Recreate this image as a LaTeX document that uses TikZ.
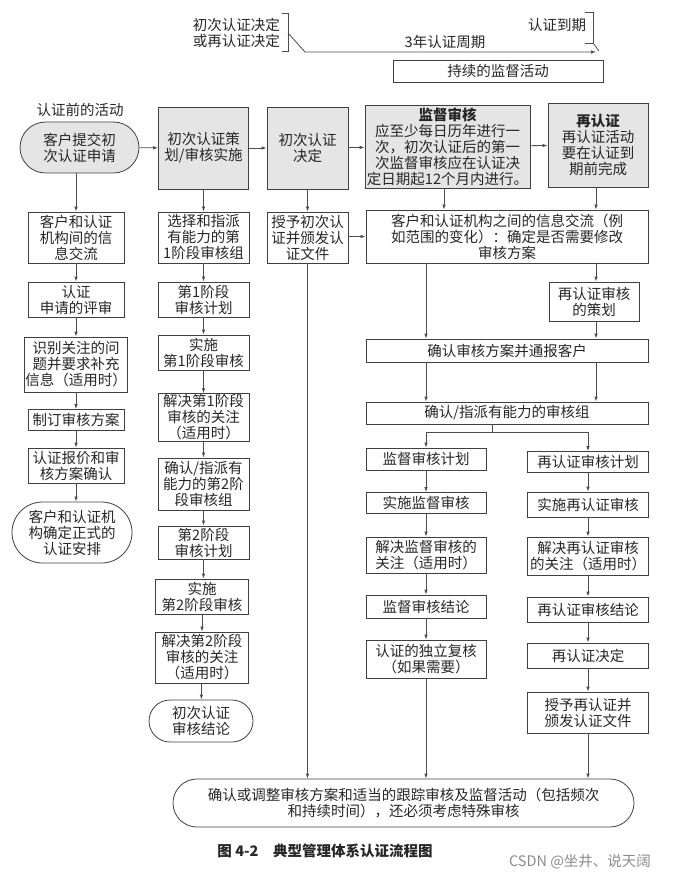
\documentclass[tikz,border=0pt]{standalone}
\usepackage{fontspec}
\setmainfont{Noto Sans CJK SC}
\usetikzlibrary{arrows.meta, shapes.misc}

\newcommand{\boxfont}{\fontsize{14.5}{16}\selectfont}

\begin{document}
\begin{tikzpicture}[x=1pt, y=-1pt,
  box/.style={draw=black!75, line width=0.8pt, align=center, inner sep=1pt, font=\boxfont, text=black!85},
  keybox/.style={box, fill=black!10},
  endbox/.style={box, rounded rectangle, rounded rectangle arc length=180},
  label/.style={align=center, inner sep=1pt, font=\boxfont, text=black!85},
  flow/.style={draw=black!70, line width=0.8pt, -{Latex[length=5pt, width=3.5pt]}},
  plain/.style={draw=black!70, line width=0.8pt}
]
  \useasboundingbox (0,0) rectangle (689,877);

  % -- Certification cycle --
  \node[label, align=right, anchor=east] (decide) at (281,33) {初次认证决定\\或再认证决定};
  \node[label] (cycle) at (445,42) {3年认证周期};
  \node[label] (expiry) at (557,25) {认证到期};
  \coordinate (cycStart) at (288,33);
  \coordinate (cycBend) at (305,52);
  \coordinate (cycEnd) at (596,52);
  \draw[plain] (282,13) -- (288,13) -- (288,51) -- (282,51);
  \draw[plain] (585,12) -- (593,12) -- (593,43) -- (585,43);
  \draw[plain] (593,43) -- (599,51);
  \draw[flow] (cycStart) -- (cycBend) -- (cycEnd);
  \node[box, minimum width=210, minimum height=22] (ongoing) at (498,71) {持续的监督活动};

  % -- Main stages --
  \node[label] (pre) at (80,110) {认证前的活动};
  \node[endbox, fill=black!10, minimum width=121, minimum height=51] (apply) at (79.5,147.5) {客户提交初\\次认证申请};
  \node[keybox, minimum width=90, minimum height=82] (plan) at (203.5,148) {初次认证策\\划/审核实施};
  \node[keybox, minimum width=81, minimum height=82] (decision) at (307.5,148) {初次认证\\决定};
  \node[keybox, minimum width=165, minimum height=83] (surv) at (447.5,146.5) {{\bfseries 监督审核}\\应至少每日历年进行一\\次，初次认证后的第一\\次监督审核应在认证决\\定日期起12个月内进行。};
  \node[keybox, minimum width=100, minimum height=84] (recert) at (598,145) {{\bfseries 再认证}\\再认证活动\\要在认证到\\期前完成};
  \draw[flow] (apply) -- (plan);
  \draw[flow] (plan) -- (decision);
  \draw[flow] (decision) -- (surv);
  \draw[flow] (surv) -- (recert);

  % -- Pre-certification column --
  \node[box, minimum width=96, minimum height=51] (info) at (76,237.5) {客户和认证\\机构间的信\\息交流};
  \node[box, minimum width=96, minimum height=35] (review) at (76,299.5) {认证\\申请的评审};
  \node[box, minimum width=96, minimum height=55] (issues) at (76,364.5) {识别关注的问\\题并要求补充\\信息（适用时）};
  \node[box, minimum width=96, minimum height=21] (program) at (76,420) {制订审核方案};
  \node[box, minimum width=96, minimum height=35] (quote) at (76,465.5) {认证报价和审\\核方案确认};
  \node[endbox, minimum width=122, minimum height=61] (agree) at (72,532.5) {客户和认证机\\构确定正式的\\认证安排};
  \draw[flow] (apply.south -| info) -- (info);
  \draw[flow] (info) -- (review);
  \draw[flow] (review) -- (issues);
  \draw[flow] (issues) -- (program);
  \draw[flow] (program) -- (quote);
  \draw[flow] (quote.south) -- (quote.south |- agree.north);

  % -- Initial audit column --
  \node[box, minimum width=91, minimum height=51] (team1) at (203.5,237.5) {选择和指派\\有能力的第\\1阶段审核组};
  \node[box, minimum width=91, minimum height=35] (plan1) at (203.5,299.5) {第1阶段\\审核计划};
  \node[box, minimum width=91, minimum height=35] (do1) at (203.5,352.5) {实施\\第1阶段审核};
  \node[box, minimum width=91, minimum height=44] (solve1) at (203.5,417.5) {解决第1阶段\\审核的关注\\（适用时）};
  \node[box, minimum width=91, minimum height=52] (team2) at (203.5,484) {确认/指派有\\能力的第2阶\\段审核组};
  \node[box, minimum width=91, minimum height=33] (plan2) at (203.5,542.5) {第2阶段\\审核计划};
  \node[box, minimum width=93, minimum height=35] (do2) at (202,596.5) {实施\\第2阶段审核};
  \node[box, minimum width=93, minimum height=51] (solve2) at (202,657.5) {解决第2阶段\\审核的关注\\（适用时）};
  \node[endbox, minimum width=106, minimum height=42] (concl1) at (201,721) {初次认证\\审核结论};
  \draw[flow] (plan) -- (team1);
  \draw[flow] (team1) -- (plan1);
  \draw[flow] (plan1) -- (do1);
  \draw[flow] (do1) -- (solve1);
  \draw[flow] (solve1) -- (team2);
  \draw[flow] (team2) -- (plan2);
  \draw[flow] (plan2.south) -- (plan2.south |- do2.north);
  \draw[flow] (do2) -- (solve2);
  \draw[flow] (solve2) -- (concl1);

  % -- Decision column --
  \node[box, minimum width=81, minimum height=51] (grant) at (307.5,237.5) {授予初次认\\证并颁发认\\证文件};
  \draw[flow] (decision) -- (grant);

  % -- Surveillance and recertification --
  \node[box, minimum width=282, minimum height=53] (exchange) at (507,236.5) {客户和认证机构之间的信息交流（例\\如范围的变化）：确定是否需要修改\\审核方案};
  \node[box, minimum width=90, minimum height=39] (replan) at (594,301.5) {再认证审核\\的策划};
  \node[box, minimum width=282, minimum height=23] (confirm) at (507,350.5) {确认审核方案并通报客户};
  \node[box, minimum width=282, minimum height=22] (team) at (507,413) {确认/指派有能力的审核组};
  \draw[flow] (grant.east |- exchange) -- (exchange);
  \draw[flow] (surv.south -| 444,0) -- (exchange.north -| 444,0);
  \draw[flow] (recert.south -| 596,0) -- (exchange.north -| 596,0);
  \draw[flow] (exchange.south -| 596,0) -- (replan.north -| 596,0);
  \draw[flow] (exchange.south -| 426,0) -- (confirm.north -| 426,0);
  \draw[flow] (replan.south -| 596,0) -- (confirm.north -| 596,0);
  \draw[flow] (confirm.south -| 426,0) -- (team.north -| 426,0);
  \draw[flow] (confirm.south -| 596,0) -- (team.north -| 596,0);

  \node[box, minimum width=120, minimum height=22] (splan) at (426,459) {监督审核计划};
  \node[box, minimum width=120, minimum height=21] (sdo) at (426,503) {实施监督审核};
  \node[box, minimum width=120, minimum height=36] (ssolve) at (426,555) {解决监督审核的\\关注（适用时）};
  \node[box, minimum width=120, minimum height=23] (sconcl) at (426,606.5) {监督审核结论};
  \node[box, minimum width=120, minimum height=38] (sreview) at (426,659) {认证的独立复核\\（如果需要）};

  \node[box, minimum width=121, minimum height=21] (rplan) at (588,462) {再认证审核计划};
  \node[box, minimum width=121, minimum height=25] (rdo) at (588,504.5) {实施再认证审核};
  \node[box, minimum width=121, minimum height=38] (rsolve) at (588,556) {解决再认证审核\\的关注（适用时）};
  \node[box, minimum width=121, minimum height=25] (rconcl) at (588,609.5) {再认证审核结论};
  \node[box, minimum width=121, minimum height=25] (rdec) at (588,655.5) {再认证决定};
  \node[box, minimum width=121, minimum height=41] (rgrant) at (588,712.5) {授予再认证并\\颁发认证文件};

  \coordinate (split) at (492,432);
  \draw[plain] (team.south -| split) -- (split);
  \draw[flow] (split) -| (splan);
  \draw[flow] (split) -| (rplan);
  \draw[flow] (splan) -- (sdo);
  \draw[flow] (sdo) -- (ssolve);
  \draw[flow] (ssolve) -- (sconcl);
  \draw[flow] (sconcl) -- (sreview);
  \draw[flow] (rplan) -- (rdo);
  \draw[flow] (rdo) -- (rsolve);
  \draw[flow] (rsolve) -- (rconcl);
  \draw[flow] (rconcl) -- (rdec);
  \draw[flow] (rdec) -- (rgrant);

  % -- Follow-up --
  \node[endbox, minimum width=463, minimum height=48] (follow) at (403.5,803) {确认或调整审核方案和适当的跟踪审核及监督活动（包括频次\\和持续时间），还必须考虑特殊审核};
  \draw[flow] (grant.south) -- (grant.south |- follow.north);
  \draw[flow] (sreview.south) -- (sreview.south |- follow.north);
  \draw[flow] (rgrant.south) -- (rgrant.south |- follow.north);

  % -- Caption --
  \node[label, font=\boxfont\bfseries] (caption) at (325,851) {图 4-2\quad 典型管理体系认证流程图};
  \node[label, text=black!45] (mark) at (580,862) {CSDN @坐井、说天阔};

\end{tikzpicture}
\end{document}
